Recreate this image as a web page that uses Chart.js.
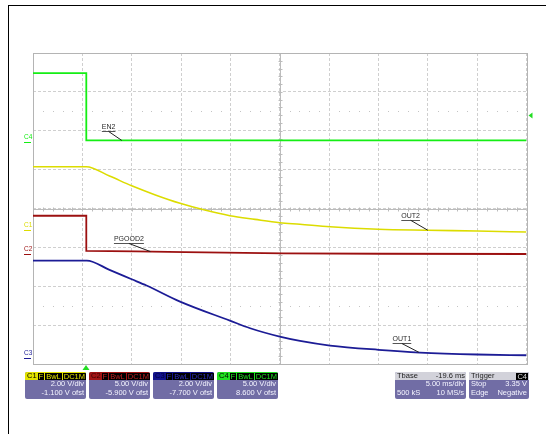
<!DOCTYPE html>
<html>
<head>
<meta charset="utf-8">
<script src="https://cdn.jsdelivr.net/npm/chart.js@4.4.1/dist/chart.umd.min.js"></script>
<style>
  body { margin: 0; background: #fff; font-family: "Liberation Sans", Arial, sans-serif; }
  #wrap { position: relative; width: 546px; height: 434px; overflow: hidden; }
  #scope { position: absolute; left: 0; top: 0; }
  .frameTop { position: absolute; left: 8px; top: 5px; width: 538px; height: 1px; background: #000; }
  .frameLeft { position: absolute; left: 8px; top: 5px; width: 1px; height: 429px; background: #000; }
  .box { position: absolute; top: 372px; height: 27px; background: #716da5; border-radius: 2px;
         color: #f4f4ff; font-size: 7.5px; line-height: 8.6px; overflow: hidden; }
  .hd { height: 8px; line-height: 8px; display: flex; align-items: center; padding: 0 1px 0 2px; }
  .hd .cn { flex: 1; }
  .tag { background: #000; margin-left: 1px; padding: 0 1px; line-height: 7px; height: 7px; }
  .row { text-align: right; padding-right: 2px; }
  .row2 { display: flex; justify-content: space-between; padding: 0 2px; }
</style>
</head>
<body>
<div id="wrap">
  <canvas id="scope" width="546" height="434"></canvas>
  <div class="frameTop"></div>
  <div class="frameLeft"></div>
  <div id="boxes"></div>
</div>
<script>
// scope settings
const channels = ['C1', 'C2', 'C3', 'C4'];
const traceNames = ['OUT2', 'PGOOD2', 'OUT1', 'EN2'];
const traceColors = ['#dcdc00', '#9c1010', '#1c1c96', '#14ee14'];
const voltsPerDiv = [2, 5, 2, 5];
const offsetV = [-1.1, -5.9, -7.7, 8.6];
const msPerDiv = 5;
const tbaseMs = -19.6;        // trigger sits 19.6 ms left of screen centre
const triggerLevel = 3.35;    // V on C4, negative edge

// C1  OUT2 (ms, V)
const out2Time = [-5.4, 0, 2.35, 4.6, 7.0, 9.5, 12.0, 14.55, 17.1, 19.6, 21.65, 24.7, 29.6, 34.6, 39.6, 44.6];
const out2Volt = [3.25, 3.25, 2.77, 2.27, 1.80, 1.37, 1.02, 0.73, 0.54, 0.37, 0.29, 0.16, 0.03, -0.02, -0.06, -0.11];

// C2  PGOOD2
const pgoodTime = [-5.4, 0, 0, 5, 10, 20, 30, 44.6];
const pgoodVolt = [4.97, 4.97, 0.44, 0.38, 0.30, 0.14, 0.08, 0.05];

// C3  OUT1
const out1Time = [-5.4, 0.05, 2.35, 4.6, 6.1, 9.5, 14.55, 16.6, 19.6, 21.65, 24.7, 29.6, 33.8, 39.6, 44.6];
const out1Volt = [5.02, 5.02, 4.54, 4.06, 3.74, 2.91, 1.93, 1.54, 1.11, 0.89, 0.65, 0.43, 0.29, 0.19, 0.15];

// C4  EN2
const en2Time = [-5.4, 0, 0, 44.6];
const en2Volt = [8.8, 8.8, 0.15, 0.15];

// trace callouts: point on trace (ms, V)
const calloutTime = [34.6, 6.5, 33.7, 3.6];
const calloutVolt = [-0.02, 0.36, 0.30, 0.15];

const X_MIN = -tbaseMs - 5 * msPerDiv;
const X_MAX = -tbaseMs + 5 * msPerDiv;

function pts(t, v) { return t.map((x, i) => ({ x: x, y: v[i] })); }

const seriesData = [pts(out2Time, out2Volt), pts(pgoodTime, pgoodVolt), pts(out1Time, out1Volt), pts(en2Time, en2Volt)];

const datasets = channels.map((c, i) => ({
    label: traceNames[i],
    data: seriesData[i],
    yAxisID: 'y' + c,
    borderColor: traceColors[i],
    borderWidth: i === 0 ? 1.6 : 1.8,
    pointRadius: 0,
    fill: false,
    tension: 0,
    cubicInterpolationMode: (i === 0 || i === 2) ? 'monotone' : 'default'
}));

const scales = {
    x: {
        type: 'linear', min: X_MIN, max: X_MAX,
        afterBuildTicks: s => { s.ticks = []; for (let k = 0; k <= 10; k++) s.ticks.push({ value: X_MIN + k * msPerDiv }); },
        ticks: { display: false },
        grid: { color: '#cfcfcf', drawTicks: false, lineWidth: 1 },
        border: { display: false, dash: [3, 2] }
    },
    yGrid: {
        type: 'linear', position: 'left', min: -4, max: 4,
        ticks: { display: false, stepSize: 1 },
        grid: { color: '#cfcfcf', drawTicks: false, lineWidth: 1 },
        border: { display: false, dash: [3, 2] }
    }
};
channels.forEach((c, i) => {
    scales['y' + c] = {
        type: 'linear', display: false,
        min: -offsetV[i] - 4 * voltsPerDiv[i],
        max: -offsetV[i] + 4 * voltsPerDiv[i]
    };
});

const FONT = '"Liberation Sans", Arial, sans-serif';

const scopeDecor = {
    id: 'scopeDecor',
    beforeDatasetsDraw(chart) {
        const { ctx, chartArea: a } = chart;
        const x = chart.scales.x, g = chart.scales.yGrid;
        ctx.save();
        // dotted rows at +-2.5 div
        ctx.fillStyle = '#c4c4c4';
        [2.5, -2.5].forEach(v => {
            const py = Math.round(g.getPixelForValue(v));
            for (let i = 1; i < 50; i++) {
                if (i % 5 === 0) continue;
                ctx.fillRect(Math.round(x.getPixelForValue(X_MIN + i)), py, 1, 1);
            }
        });
        // centre axes with minor ticks
        ctx.strokeStyle = '#bcbcbc';
        ctx.lineWidth = 1;
        const cy = Math.round(g.getPixelForValue(0)) + 0.5;
        const cx = Math.round(x.getPixelForValue(-tbaseMs)) + 0.5;
        ctx.beginPath();
        ctx.moveTo(a.left, cy); ctx.lineTo(a.right, cy);
        ctx.moveTo(cx, a.top); ctx.lineTo(cx, a.bottom);
        for (let i = 1; i < 50; i++) {
            const px = Math.round(x.getPixelForValue(X_MIN + i)) + 0.5;
            ctx.moveTo(px, cy - 2); ctx.lineTo(px, cy + 2);
        }
        for (let i = -19; i < 20; i++) {
            const py = Math.round(g.getPixelForValue(i / 5)) + 0.5;
            ctx.moveTo(cx - 2, py); ctx.lineTo(cx + 2, py);
        }
        ctx.stroke();
        // outer border
        ctx.strokeStyle = '#b4b4b4';
        ctx.strokeRect(Math.round(a.left) + 0.5, Math.round(a.top) + 0.5, Math.round(a.right - a.left), Math.round(a.bottom - a.top));
        ctx.restore();
    },
    afterDatasetsDraw(chart) {
        const { ctx, chartArea: a } = chart;
        const x = chart.scales.x;
        ctx.save();
        // callouts
        ctx.font = '7px ' + FONT;
        ctx.textBaseline = 'middle';
        const offs = [[-26.5, -14.5], [-36.5, -12.6], [-26.3, -13.3], [-20, -13.5]];
        channels.forEach((c, i) => {
            const px = x.getPixelForValue(calloutTime[i]);
            const py = chart.scales['y' + c].getPixelForValue(calloutVolt[i]);
            const tx = px + offs[i][0], ty = py + offs[i][1];
            const w = ctx.measureText(traceNames[i]).width;
            ctx.fillStyle = '#2a2a2a';
            ctx.fillText(traceNames[i], tx, ty);
            ctx.strokeStyle = '#555';
            ctx.lineWidth = 1;
            ctx.beginPath();
            ctx.moveTo(tx, Math.round(ty + 4) + 0.5); ctx.lineTo(tx + w, Math.round(ty + 4) + 0.5);
            ctx.stroke();
            ctx.strokeStyle = '#222';
            ctx.beginPath();
            ctx.moveTo(tx + w / 2, ty + 4.5); ctx.lineTo(px, py);
            ctx.stroke();
        });
        // channel ground markers
        ctx.font = '6.5px ' + FONT;
        ctx.textBaseline = 'alphabetic';
        channels.forEach((c, i) => {
            const gy = Math.round(chart.scales['y' + c].getPixelForValue(0));
            ctx.fillStyle = traceColors[i];
            ctx.fillText(c, 24, gy - 3);
            ctx.fillRect(24, gy, 7, 1);
        });
        // trigger markers
        ctx.fillStyle = '#22dd22';
        const tx = Math.round(x.getPixelForValue(0));
        ctx.beginPath();
        ctx.moveTo(tx, a.bottom + 1); ctx.lineTo(tx + 3.5, a.bottom + 6); ctx.lineTo(tx - 3.5, a.bottom + 6);
        ctx.closePath(); ctx.fill();
        const ty = chart.scales.yC4.getPixelForValue(triggerLevel);
        ctx.beginPath();
        ctx.moveTo(a.right + 2, ty); ctx.lineTo(a.right + 6, ty - 3); ctx.lineTo(a.right + 6, ty + 3);
        ctx.closePath(); ctx.fill();
        ctx.restore();
    }
};

new Chart(document.getElementById('scope'), {
    type: 'line',
    data: { datasets: datasets },
    options: {
        responsive: false,
        devicePixelRatio: 1,
        animation: false,
        layout: { padding: { left: 33, top: 53, right: 19.5, bottom: 70 } },
        plugins: { legend: { display: false }, tooltip: { enabled: false } },
        scales: scales
    },
    plugins: [scopeDecor]
});

// channel / timebase info boxes under the grid
const headBg = ['#e2e200', '#a01414', '#12128a', '#20e020'];
const headText = ['#000', '#3a0000', '#000040', '#000'];
const tagText = ['#e2e200', '#c02020', '#3030c0', '#20e020'];
const boxLeft = [25, 89, 153, 217];
let html = '';
channels.forEach((c, i) => {
    html += '<div class="box" style="left:' + boxLeft[i] + 'px;width:61px">' +
        '<div class="hd" style="background:' + headBg[i] + ';color:' + headText[i] + '"><span class="cn">' + c + '</span>' +
        ['F', 'BwL', 'DC1M'].map(t => '<span class="tag" style="color:' + tagText[i] + '">' + t + '</span>').join('') + '</div>' +
        '<div class="row">' + voltsPerDiv[i].toFixed(2) + ' V/div</div>' +
        '<div class="row">' + offsetV[i].toFixed(3) + ' V ofst</div></div>';
});
html += '<div class="box" style="left:395px;width:71px">' +
    '<div class="hd" style="background:#d2d2da;color:#222;justify-content:space-between"><span>Tbase</span><span>' + tbaseMs.toFixed(1) + ' ms</span></div>' +
    '<div class="row">' + msPerDiv.toFixed(2) + ' ms/div</div>' +
    '<div class="row2"><span>500 kS</span><span>10 MS/s</span></div></div>';
html += '<div class="box" style="left:469px;width:60px">' +
    '<div class="hd" style="background:#d2d2da;color:#222"><span class="cn">Trigger</span><span class="tag" style="color:#ddd">C4</span></div>' +
    '<div class="row2"><span>Stop</span><span>' + triggerLevel.toFixed(2) + ' V</span></div>' +
    '<div class="row2"><span>Edge</span><span>Negative</span></div></div>';
document.getElementById('boxes').innerHTML = html;
</script>
</body>
</html>
